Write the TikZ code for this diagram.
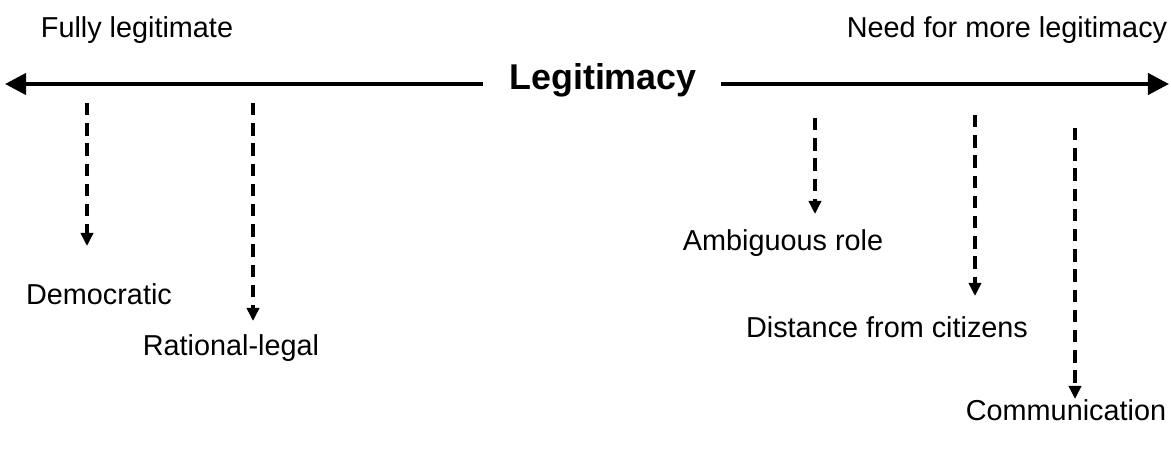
\documentclass[tikz,border=0pt]{standalone}
\usepackage{fontspec}
\setmainfont{Liberation Sans}
\usetikzlibrary{arrows.meta}
\begin{document}
\begin{tikzpicture}[x=0.02cm, y=-0.02cm, >={Triangle[width=7pt, length=7pt]},
	axisline/.style={line width=2.3pt, -{Triangle[width=12pt, length=12pt]}},
	dasharrow/.style={line width=1.8pt, dash pattern=on 7pt off 4.5pt, -{Triangle[width=7pt, length=7.5pt]}},
	lbl/.style={font=\fontsize{16.4pt}{19pt}\selectfont, inner sep=0pt}]
	\useasboundingbox (0,0) rectangle (1171,450);
	
	% 轴与标题
	\node[font=\fontsize{20.4pt}{24pt}\bfseries\selectfont, inner sep=0pt] (legit) at (603,80) {Legitimacy};
	\node[lbl] (full) at (137,30) {Fully legitimate};
	\node[lbl] (need) at (1007,30) {Need for more legitimacy};
	\coordinate (lend) at (5,84);
	\coordinate (rend) at (1169,84);
	\coordinate (lstart) at (483,84);
	\coordinate (rstart) at (721,84);
	\draw[axisline] (lstart) -- (lend);
	\draw[axisline] (rstart) -- (rend);
	
	% 左侧标签
	\node[lbl] (demo) at (99,294) {Democratic};
	\node[lbl] (ratio) at (231,348) {Rational-legal};
	
	% 右侧标签
	\node[lbl] (ambig) at (783,243) {Ambiguous role};
	\node[lbl] (dist) at (887,327) {Distance from citizens};
	\node[lbl] (comm) at (1066,410) {Communication};
	
	% 虚线箭头
	\coordinate (d1) at (87,103);  \coordinate (t1) at (87,246);
	\coordinate (d2) at (253,103); \coordinate (t2) at (253,321);
	\coordinate (d3) at (815,118); \coordinate (t3) at (815,214);
	\coordinate (d4) at (975,115); \coordinate (t4) at (975,296);
	\coordinate (d5) at (1075,128); \coordinate (t5) at (1075,399);
	\foreach \i in {1,...,5}
		\draw[dasharrow] (d\i) -- (t\i);
\end{tikzpicture}
\end{document}
